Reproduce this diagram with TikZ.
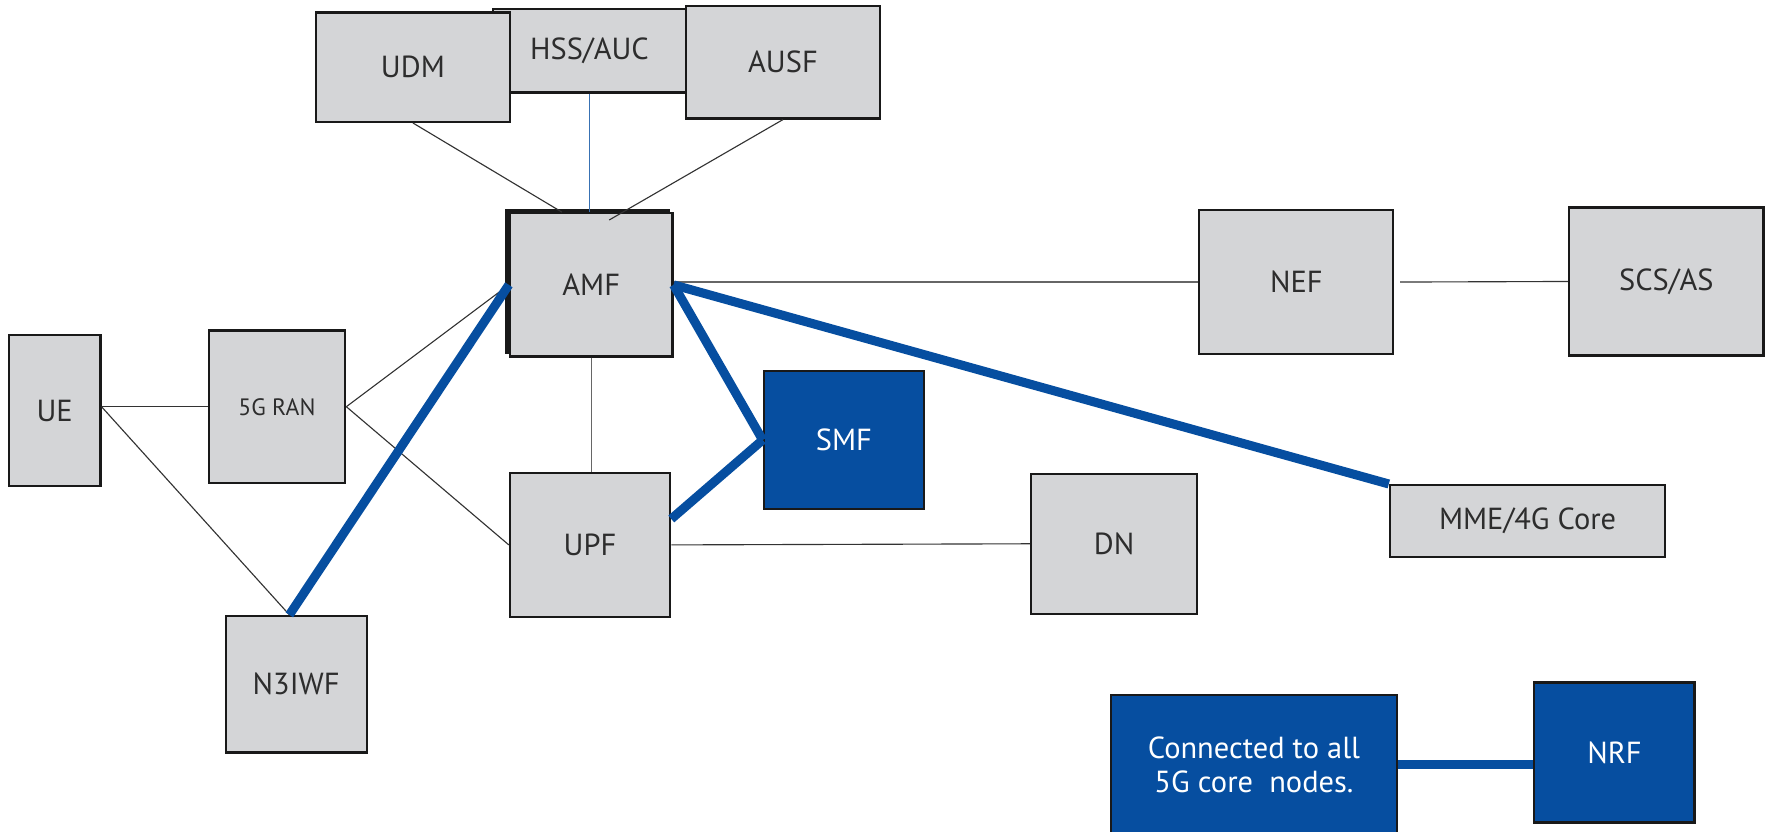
\documentclass[tikz,border=0pt]{standalone}
\usepackage{fontspec}
\setmainfont{PT Sans}
\usetikzlibrary{shadows}
\definecolor{boxgray}{RGB}{212,213,215}
\definecolor{nfblue}{RGB}{6,78,160}
\definecolor{txtgray}{RGB}{45,45,45}
\begin{document}
\begin{tikzpicture}[x=0.5pt,y=-0.5pt,
  nf/.style={draw=black!90, line width=1pt, fill=boxgray, text=txtgray, inner sep=0pt, font=\fontsize{13.5}{15}\selectfont},
  nfdark/.style={nf, fill=nfblue, text=white},
  link/.style={black!80, line width=0.5pt},
  hot/.style={nfblue, line width=4pt}]
\useasboundingbox (0,0) rectangle (1568,736.6);
%%% upper row: subscriber data
\node[nf, minimum width=85.5pt, minimum height=37pt] (hss) at (522.5,45) {HSS/AUC};
\node[nf, minimum width=86pt, minimum height=48.5pt] (udm) at (366,59.5) {UDM};
\node[nf, minimum width=86pt, minimum height=50pt] (ausf) at (694,55) {AUSF};
%%% core
\node[nf, minimum width=72pt, minimum height=63.5pt,
  copy shadow={shadow xshift=-1.5pt, shadow yshift=1.5pt, fill=black!90}] (amf) at (524,252.5) {AMF};
\node[nf, minimum width=71pt, minimum height=64pt] (upf) at (523,483) {UPF};
\node[nfdark, minimum width=71pt, minimum height=61pt] (smf) at (748,390) {SMF};
\node[nf, minimum width=73.5pt, minimum height=62pt] (dn) at (987.5,482) {DN};
\node[nf, minimum width=86pt, minimum height=64pt] (nef) at (1149,250) {NEF};
\node[nf, minimum width=86pt, minimum height=65.5pt] (scs) at (1477,249.5) {SCS/AS};
\node[nf, minimum width=122pt, minimum height=32pt] (mme) at (1354,462) {MME/4G Core};
%%% access side
\node[nf, minimum width=40.5pt, minimum height=67pt] (ue) at (48.5,364) {UE};
\node[nf, minimum width=60.5pt, minimum height=67.5pt, font=\fontsize{10.5}{12}\selectfont] (ran) at (245.5,360.5) {5G RAN};
\node[nf, minimum width=62.5pt, minimum height=60.5pt] (n3iwf) at (262.5,606.5) {N3IWF};
%%% NRF
\node[nfdark, minimum width=126.5pt, minimum height=62pt, align=center] (conn) at (1111.5,678) {Connected to all\\5G core\ \ nodes.};
\node[nfdark, minimum width=71pt, minimum height=62pt] (nrf) at (1431,667) {NRF};
%thin links
\draw[link] (udm.south) -- ([xshift=-13pt]amf.north);
\draw[nfblue!80, line width=0.6pt] (hss.south) -- (hss.south |- amf.north);
\draw[link] (ausf.south) -- ([xshift=8pt,yshift=-3.5pt]amf.north);
\draw[link, black!60] (nef.west -| amf.east) -- (nef.west);
\draw[link] ([xshift=2.5pt]nef.east) -- (scs.west);
\draw[link, black!60] (amf.south) -- (amf.south |- upf.north);
\coordinate (uex) at (ran.west -| ue.east);
\draw[link] (uex) -- (ran.west);
\draw[link] (uex) -- ([xshift=-3pt]n3iwf.north);
\draw[link] (ran.east) -- (amf.west);
\draw[link] (ran.east) -- (upf.west);
\draw[link] (upf.east) -- (dn.west);
%thick links
\draw[hot] ([xshift=-3pt]n3iwf.north) -- (amf.west);
\draw[hot] (amf.east) -- (smf.west);
\draw[hot] ([yshift=11.5pt]upf.east) -- (smf.west);
\draw[hot] (amf.east) -- (mme.north west);
\draw[hot] (conn.east) -- (conn.east -| nrf.west);
\end{tikzpicture}
\end{document}
